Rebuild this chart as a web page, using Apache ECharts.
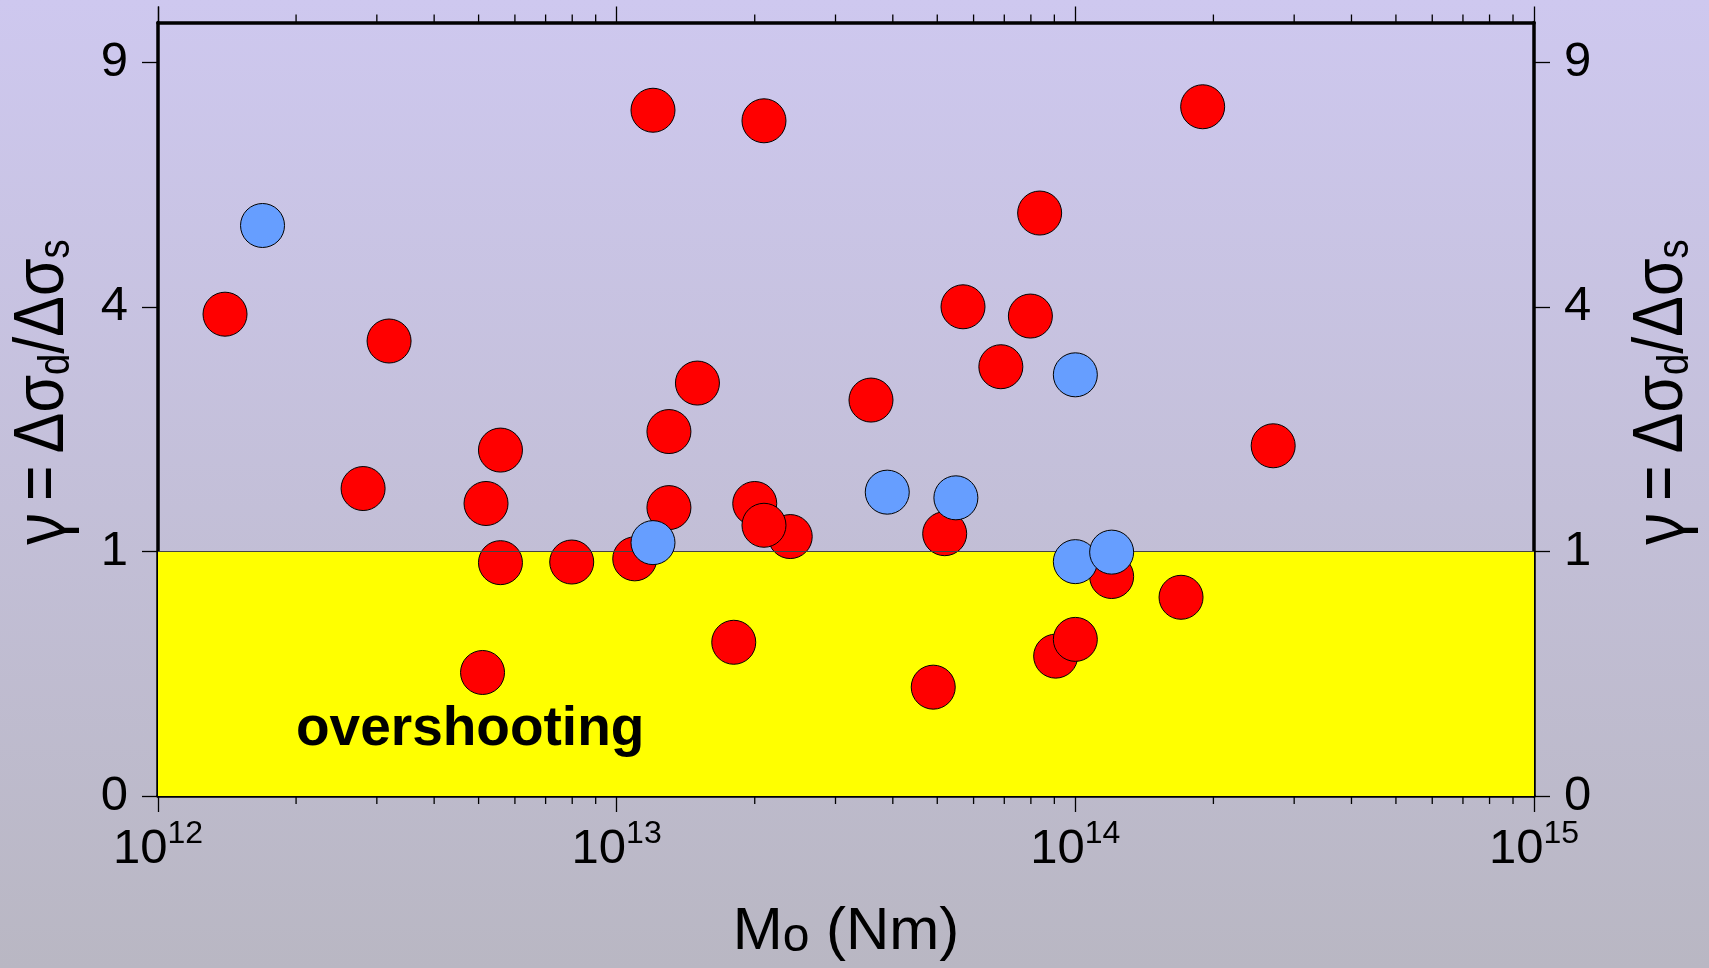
<!DOCTYPE html>
<html>
<head>
<meta charset="utf-8">
<script src="https://cdn.jsdelivr.net/npm/echarts@6/dist/echarts.min.js"></script>
<style>
html,body{margin:0;padding:0;}
#c{width:1709px;height:968px;}
</style>
</head>
<body>
<div id="c"></div>
<script>
// ---- data (seismic moment in Nm, gamma = dsigma_d / dsigma_s) ----
const redM = [1.40e12, 3.19e12, 2.80e12, 5.58e12, 5.19e12, 5.58e12, 5.10e12, 7.98e12,
  1.095e13, 1.20e13, 2.095e13, 1.30e13, 1.50e13, 1.30e13, 1.80e13, 2.00e13, 2.39e13, 2.095e13,
  3.585e13, 4.90e13, 5.19e13, 5.69e13, 6.88e13, 7.98e13, 8.36e13, 9.06e13, 1.00e14,
  1.20e14, 1.70e14, 1.895e14, 2.70e14];
const redGamma = [3.88, 3.46, 1.58, 2.00, 1.43, 0.91, 0.255, 0.915,
  0.94, 7.86, 7.62, 2.22, 2.85, 1.39, 0.395, 1.43, 1.125, 1.225,
  2.62, 0.198, 1.15, 4.00, 3.08, 3.85, 5.68, 0.327, 0.41,
  0.805, 0.66, 7.94, 2.05];
const blueM = [1.69e12, 1.20e13, 3.89e13, 5.49e13, 1.00e14, 1.00e14, 1.20e14];
const blueGamma = [5.44, 1.073, 1.543, 1.486, 2.965, 0.918, 0.994];

const yTickLabels = [0, 1, 4, 9];        // gamma ticks (square-root scale)
const yMaxGamma = 10;
const xDecades = [12, 13, 14, 15];       // major ticks 10^n
const minorMantissas = [2, 3, 4, 5, 6, 7, 8, 9];
const overshootValue = 1;                // gamma threshold

// ---- derived ----
const sq = v => Math.sqrt(v);
const xMin = Math.pow(10, xDecades[0]);
const xMax = Math.pow(10, xDecades[xDecades.length - 1]);
const yMax = sq(yMaxGamma);
const minorTicks = [];
for (let i = 0; i < xDecades.length - 1; i++) {
  minorMantissas.forEach(m => minorTicks.push([m * Math.pow(10, xDecades[i])]));
}
const FONT = "'Liberation Sans', Arial, Helvetica, sans-serif";

const chart = echarts.init(document.getElementById('c'));

const yTitleText = '{g|γ}{m|\u2009=\u2009Δσ}{sb|d}{m|/Δσ}{sb|s}';
const yTitleRich = {
  g: { fontSize: 70, fontFamily: "'Noto Sans', " + FONT, color: '#000', lineHeight: 70, verticalAlign: 'top' },
  m: { fontSize: 70, fontFamily: FONT, color: '#000', lineHeight: 70, verticalAlign: 'top' },
  sb: { fontSize: 44, fontFamily: FONT, color: '#000', lineHeight: 46, verticalAlign: 'bottom' }
};
function yTitle(x) {
  return {
    type: 'text', x: x, y: 392, rotation: Math.PI / 2, scaleX: 0.87, scaleY: 1,
    silent: true, z: 50,
    style: { text: yTitleText, rich: yTitleRich, align: 'center', verticalAlign: 'middle' }
  };
}

const yAxisCommon = {
  type: 'value', min: 0, max: yMax,
  axisLine: { show: true, onZero: false, lineStyle: { color: '#000', width: 3.5 } },
  axisTick: { show: true, length: 16, lineStyle: { color: '#000', width: 1.3 },
              customValues: yTickLabels.map(sq) },
  axisLabel: { show: true, fontSize: 49, color: '#000', fontFamily: FONT, margin: 30,
               customValues: yTickLabels.map(sq),
               formatter: v => String(Math.round(v * v)) },
  splitLine: { show: false }
};

const xAxisCommon = {
  type: 'log', logBase: 10, min: xMin, max: xMax,
  axisLine: { show: true, onZero: false, lineStyle: { color: '#000', width: 3.5 } },
  axisTick: { show: true, length: 16, lineStyle: { color: '#000', width: 1.3 } },
  splitLine: { show: false },
  minorTick: { show: false }, minorSplitLine: { show: false }
};

chart.setOption({
  animation: false,
  backgroundColor: {
    type: 'linear', x: 0, y: 0, x2: 0, y2: 1,
    colorStops: [{ offset: 0, color: '#CEC8EF' }, { offset: 1, color: '#B9B7C3' }]
  },
  grid: { left: 158, right: 175, top: 22.5, bottom: 172, containLabel: false },
  xAxis: [
    Object.assign({}, xAxisCommon, {
      position: 'bottom',
      axisLabel: {
        show: true, margin: 22,
        formatter: v => '{b|10}{s|' + Math.round(Math.log10(v)) + '}',
        rich: {
          b: { fontSize: 49, fontFamily: FONT, color: '#000', lineHeight: 56, verticalAlign: 'bottom' },
          s: { fontSize: 32, fontFamily: FONT, color: '#000', lineHeight: 32, verticalAlign: 'top' }
        }
      },
      nameLocation: 'middle', nameGap: 106,
      name: '{m|M}{sb|o}{m| (Nm)}',
      nameTextStyle: {
        rich: {
          m: { fontSize: 60, fontFamily: FONT, color: '#000', lineHeight: 60, verticalAlign: 'top' },
          sb: { fontSize: 48, fontFamily: FONT, color: '#000', lineHeight: 40, verticalAlign: 'bottom' }
        }
      }
    }),
    Object.assign({}, xAxisCommon, { position: 'top', axisLabel: { show: false } })
  ],
  yAxis: [
    Object.assign({}, yAxisCommon, { position: 'left' }),
    Object.assign({}, yAxisCommon, { position: 'right' })
  ],
  graphic: [
    yTitle(44),
    yTitle(1663),
    {
      type: 'text', left: 296, top: 702, z: 50, silent: true,
      style: { text: 'overshooting', font: 'bold 55px ' + FONT, fill: '#000' }
    }
  ],
  series: [
    {
      type: 'line', data: [], z: 1, silent: true,
      markArea: {
        silent: true,
        itemStyle: { color: '#FFFF00', opacity: 1 },
        data: [[{ yAxis: 0 }, { yAxis: sq(overshootValue) }]]
      }
    },
    {
      type: 'custom', coordinateSystem: 'cartesian2d', clip: false, silent: true, z: 3,
      data: minorTicks,
      renderItem: (params, api) => {
        const pb = api.coord([api.value(0), 0]);
        const pt = api.coord([api.value(0), yMax]);
        const st = { stroke: '#000', lineWidth: 1.3 };
        return { type: 'group', children: [
          { type: 'line', shape: { x1: pb[0], y1: pb[1], x2: pb[0], y2: pb[1] + 8 }, style: st },
          { type: 'line', shape: { x1: pt[0], y1: pt[1], x2: pt[0], y2: pt[1] - 8 }, style: st }
        ] };
      }
    },
    {
      type: 'scatter', z: 4, symbol: 'circle', symbolSize: 44,
      itemStyle: { color: '#FF0000', borderColor: '#000', borderWidth: 1, opacity: 1 },
      data: redM.map((m, i) => [m, sq(redGamma[i])])
    },
    {
      type: 'scatter', z: 5, symbol: 'circle', symbolSize: 44,
      itemStyle: { color: '#669EFF', borderColor: '#000', borderWidth: 1, opacity: 1 },
      data: blueM.map((m, i) => [m, sq(blueGamma[i])])
    },
    {
      type: 'line', data: [], z: 10, silent: true,
      markLine: {
        silent: true, symbol: ['none', 'none'],
        label: { show: false },
        lineStyle: { color: '#444', width: 1, type: 'solid' },
        data: [{ yAxis: sq(overshootValue) }]
      }
    }
  ]
});
</script>
</body>
</html>
